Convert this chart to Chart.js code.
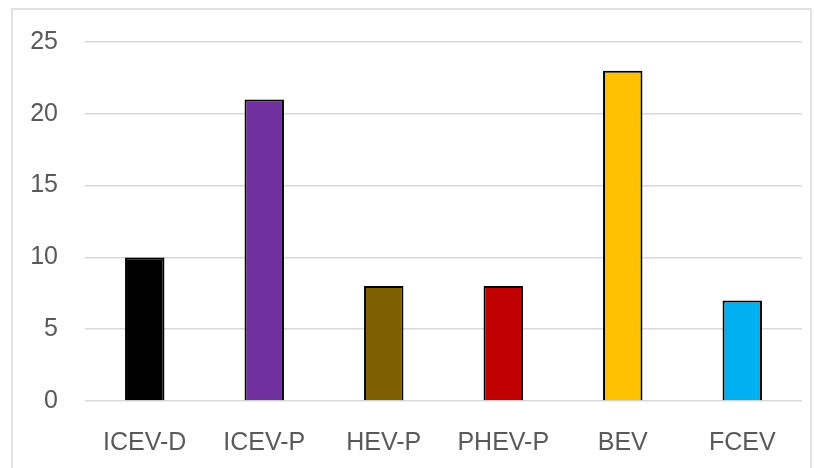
<!DOCTYPE html>
<html lang="en">
<head>
  <meta charset="UTF-8">
  <title>Vehicle types</title>
  <script src="https://cdn.jsdelivr.net/npm/chart.js"></script>
  <style>
    html, body { margin: 0; padding: 0; background: #fff; }
    .wrap { position: relative; width: 814px; height: 468px; }
  </style>
</head>
<body>
  <div class="wrap">
    <canvas id="barChart" width="814" height="468"></canvas>
  </div>

  <script>
    const categories = ['ICEV-D', 'ICEV-P', 'HEV-P', 'PHEV-P', 'BEV', 'FCEV'];
    const values = [10, 21, 8, 8, 23, 7];
    const barColors = ['#000000', '#7030A0', '#7F6000', '#C00000', '#FFC000', '#00B0F0'];
    const yTicks = [0, 5, 10, 15, 20, 25];

    // light grey frame around the whole chart, like the office chart border
    const frame = {
      id: 'frame',
      beforeDraw(chart) {
        const ctx = chart.ctx;
        ctx.save();
        ctx.strokeStyle = '#d9d9d9';
        ctx.lineWidth = 1.5;
        ctx.strokeRect(12, 9, 799, 470);
        ctx.restore();
      }
    };

    new Chart(document.getElementById('barChart'), {
      type: 'bar',
      data: {
        labels: categories,
        datasets: [{
          data: values,
          backgroundColor: barColors,
          borderColor: '#000000',
          borderWidth: 2,
          barPercentage: 0.33,
          categoryPercentage: 1
        }]
      },
      options: {
        responsive: false,
        animation: false,
        layout: { padding: { left: 0, right: 12, top: 38, bottom: 0 } },
        plugins: { legend: { display: false }, tooltip: { enabled: false } },
        scales: {
          x: {
            grid: { display: false },
            border: { display: false },
            ticks: {
              color: '#595959',
              font: { family: 'Liberation Sans', size: 25 },
              padding: 19
            },
            afterFit(scale) { scale.height = 67; }
          },
          y: {
            min: yTicks[0],
            max: yTicks[yTicks.length - 1],
            grid: { color: '#d9d9d9', lineWidth: 1.5, drawTicks: false },
            border: { display: false },
            ticks: {
              stepSize: 5,
              color: '#595959',
              font: { family: 'Liberation Sans', size: 25 },
              padding: 27
            },
            afterFit(scale) { scale.width = 85; }
          }
        }
      },
      plugins: [frame]
    });
  </script>
</body>
</html>
